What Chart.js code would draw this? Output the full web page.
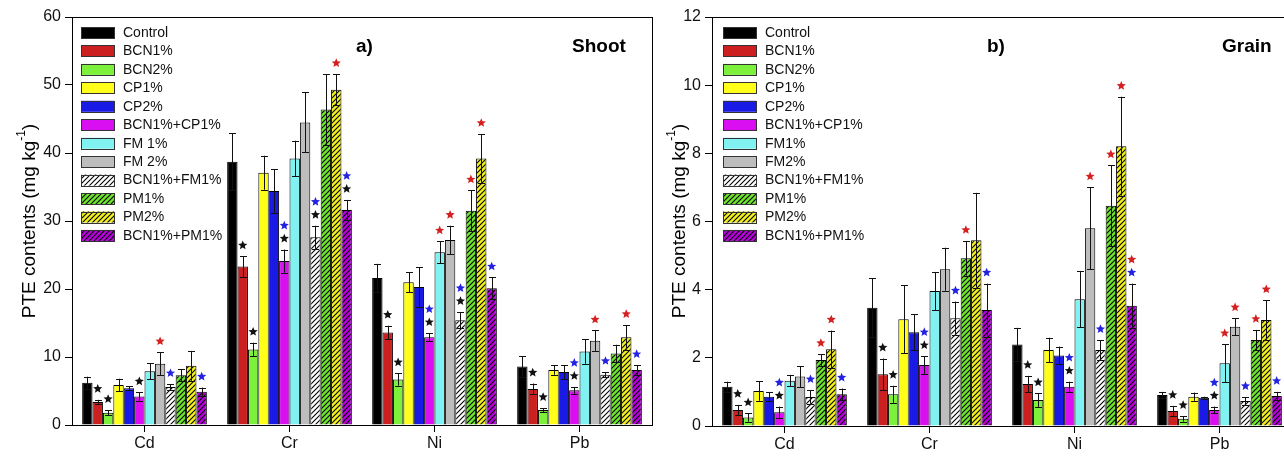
<!DOCTYPE html>
<html>
<head>
<meta charset="utf-8">
<script src="https://cdn.jsdelivr.net/npm/chart.js@4.4.1/dist/chart.umd.min.js"></script>
<style>
  html, body { margin: 0; padding: 0; background: #fff; overflow: hidden; }
  #wrap { position: relative; width: 1284px; height: 457px; overflow: hidden; }
  #shoot { position: absolute; left: 0; top: 0; }
  #grain { position: absolute; left: 655px; top: 0; }
</style>
</head>
<body>
<div id="wrap">
  <canvas id="shoot" width="655" height="457"></canvas>
  <canvas id="grain" width="660" height="457"></canvas>
</div>
<script>
const FONT = "'Liberation Sans', Arial, sans-serif";

const categories = ["Cd", "Cr", "Ni", "Pb"];
const shootLabels = ["Control", "BCN1%", "BCN2%", "CP1%", "CP2%", "BCN1%+CP1%", "FM 1%", "FM 2%", "BCN1%+FM1%", "PM1%", "PM2%", "BCN1%+PM1%"];
const grainLabels = ["Control", "BCN1%", "BCN2%", "CP1%", "CP2%", "BCN1%+CP1%", "FM1%", "FM2%", "BCN1%+FM1%", "PM1%", "PM2%", "BCN1%+PM1%"];
const seriesColors = ["#000000", "#cc1f1f", "#7df03c", "#ffff1a", "#1a1ae6", "#d90ff2", "#80f2f2", "#bdbdbd", "#ffffff", "#6ee62e", "#f2f020", "#b800dc"];
const hatched = [false, false, false, false, false, false, false, false, true, true, true, true];
const shootTicks = [0, 10, 20, 30, 40, 50, 60];
const grainTicks = [0, 2, 4, 6, 8, 10, 12];

// shoot (a), one array per metal, 12 treatments each
const shootCd = [6.2, 3.4, 1.8, 5.9, 5.4, 4.2, 7.9, 9.0, 5.6, 7.3, 8.7, 4.9];
const shootCdSD = [0.9, 0.3, 0.4, 0.9, 0.3, 0.6, 1.2, 1.7, 0.4, 0.9, 2.2, 0.6];
const shootCdStars = ["", "k", "k", "", "", "k", "", "r", "b", "", "", "b"];
const shootCr = [38.7, 23.3, 11.1, 37.1, 34.4, 24.1, 39.2, 44.5, 27.6, 46.4, 49.3, 31.6];
const shootCrSD = [4.2, 1.5, 1.0, 2.5, 3.2, 1.7, 2.6, 4.4, 1.7, 5.2, 2.3, 1.5];
const shootCrStars = ["", "k", "k", "", "", "kb", "", "", "kb", "", "r", "kb"];
const shootNi = [21.6, 13.6, 6.7, 21.0, 20.3, 12.9, 25.4, 27.2, 15.4, 31.5, 39.2, 20.1];
const shootNiSD = [2.1, 1.0, 0.9, 1.5, 2.9, 0.6, 1.6, 2.1, 1.2, 3.0, 3.6, 1.6];
const shootNiStars = ["", "k", "k", "", "", "kb", "r", "r", "kb", "r", "r", "b"];
const shootPb = [8.6, 5.3, 2.2, 8.1, 7.8, 5.1, 10.8, 12.4, 7.4, 10.5, 12.9, 8.1];
const shootPbSD = [1.5, 0.8, 0.3, 0.7, 1.0, 0.5, 1.8, 1.5, 0.4, 1.3, 1.8, 0.7];
const shootPbStars = ["", "k", "k", "", "", "kb", "", "r", "b", "", "r", "b"];

// grain (b)
const grainCd = [1.15, 0.47, 0.25, 1.03, 0.86, 0.40, 1.33, 1.45, 0.85, 1.94, 2.25, 0.93];
const grainCdSD = [0.15, 0.15, 0.12, 0.29, 0.14, 0.17, 0.17, 0.31, 0.20, 0.17, 0.55, 0.17];
const grainCdStars = ["", "k", "k", "", "", "kb", "", "", "b", "r", "r", "b"];
const grainCr = [3.47, 1.52, 0.93, 3.13, 2.75, 1.79, 3.96, 4.60, 3.16, 4.92, 5.45, 3.40];
const grainCrSD = [0.86, 0.46, 0.25, 1.0, 0.53, 0.26, 0.56, 0.63, 0.49, 0.51, 1.39, 0.78];
const grainCrStars = ["", "k", "k", "", "", "kb", "", "", "b", "r", "", "b"];
const grainNi = [2.39, 1.23, 0.76, 2.23, 2.07, 1.15, 3.72, 5.80, 2.23, 6.46, 8.21, 3.53];
const grainNiSD = [0.49, 0.24, 0.20, 0.36, 0.26, 0.15, 0.83, 1.2, 0.29, 1.19, 1.45, 0.65];
const grainNiStars = ["", "k", "k", "", "", "kb", "", "r", "b", "r", "r", "br"];
const grainPb = [0.91, 0.44, 0.21, 0.86, 0.83, 0.47, 1.84, 2.91, 0.73, 2.52, 3.11, 0.88];
const grainPbSD = [0.09, 0.15, 0.08, 0.12, 0.03, 0.10, 0.56, 0.25, 0.12, 0.30, 0.58, 0.12];
const grainPbStars = ["", "k", "k", "", "", "kb", "r", "r", "b", "r", "r", "b"];

const starColors = { k: "#111111", b: "#2222e0", r: "#d42020" };

function hatch(color) {
  const c = document.createElement("canvas");
  c.width = 5; c.height = 5;
  const g = c.getContext("2d");
  g.fillStyle = color;
  g.fillRect(0, 0, 5, 5);
  g.strokeStyle = "#000";
  g.lineWidth = 1.1;
  g.beginPath();
  g.moveTo(-1, 6); g.lineTo(6, -1);
  g.moveTo(-1, 1); g.lineTo(1, -1);
  g.moveTo(4, 6); g.lineTo(6, 4);
  g.stroke();
  return g.createPattern(c, "repeat");
}

function buildDatasets(labels, means, sds, stars) {
  return labels.map((lab, s) => ({
    label: lab,
    data: means.map((m) => m[s]),
    errors: sds.map((e) => e[s]),
    stars: stars.map((st) => st[s]),
    backgroundColor: hatched[s] ? hatch(seriesColors[s]) : seriesColors[s],
    borderColor: "#000",
    borderWidth: 1,
    borderSkipped: "bottom",
  }));
}

function drawStar(ctx, cx, cy, r, color) {
  ctx.beginPath();
  for (let i = 0; i < 10; i++) {
    const a = -Math.PI / 2 + i * Math.PI / 5;
    const rr = i % 2 === 0 ? r : r * 0.45;
    const x = cx + rr * Math.cos(a), y = cy + rr * Math.sin(a);
    i === 0 ? ctx.moveTo(x, y) : ctx.lineTo(x, y);
  }
  ctx.closePath();
  ctx.fillStyle = color;
  ctx.fill();
}

const panelPlugin = {
  id: "panel",
  afterDatasetsDraw(chart, args, opts) {
    const ctx = chart.ctx;
    const y = chart.scales.y;
    ctx.save();
    // error bars and significance stars
    chart.data.datasets.forEach((ds, i) => {
      chart.getDatasetMeta(i).data.forEach((bar, j) => {
        const m = ds.data[j], e = ds.errors[j];
        const top = y.getPixelForValue(m + e), bot = y.getPixelForValue(Math.max(0, m - e));
        const x = Math.round(bar.x) + 0.5;
        ctx.strokeStyle = "#111";
        ctx.lineWidth = 1;
        ctx.beginPath();
        ctx.moveTo(x, top); ctx.lineTo(x, bot);
        ctx.moveTo(x - 3.5, Math.round(top) + 0.5); ctx.lineTo(x + 3.5, Math.round(top) + 0.5);
        ctx.moveTo(x - 3.5, Math.round(bot) + 0.5); ctx.lineTo(x + 3.5, Math.round(bot) + 0.5);
        ctx.stroke();
        const st = ds.stars[j] || "";
        [...st].forEach((c, k) => drawStar(ctx, bar.x, top - 11 - k * 13, 4.8, starColors[c]));
      });
    });
    // frame
    const a = chart.chartArea;
    ctx.strokeStyle = "#000";
    ctx.lineWidth = 1;
    ctx.strokeRect(Math.round(a.left) + 0.5, Math.round(a.top) + 0.5, Math.round(a.right - a.left), Math.round(a.bottom - a.top));
    // legend inside plot area
    ctx.font = `14px ${FONT}`;
    ctx.textBaseline = "middle";
    chart.data.datasets.forEach((ds, i) => {
      const cy = 32 + i * 18.45;
      ctx.fillStyle = ds.backgroundColor;
      ctx.fillRect(opts.legendX, cy - 5, 33, 11);
      ctx.strokeStyle = "#333";
      ctx.strokeRect(opts.legendX + 0.5, Math.round(cy - 5) + 0.5, 33, 11);
      ctx.fillStyle = "#111";
      ctx.fillText(ds.label, opts.legendX + 42, cy + 1);
    });
    // panel tag and title
    ctx.font = `bold 19px ${FONT}`;
    ctx.fillStyle = "#000";
    ctx.textBaseline = "alphabetic";
    ctx.fillText(opts.tag, opts.tagX, 52);
    ctx.fillText(opts.title, opts.titleX, 52);
    // y axis title with superscript
    ctx.translate(opts.yTitleX, 221);
    ctx.rotate(-Math.PI / 2);
    ctx.textBaseline = "middle";
    const main = "PTE contents (mg kg";
    ctx.font = `19px ${FONT}`;
    const w1 = ctx.measureText(main).width;
    ctx.font = `12px ${FONT}`;
    const w2 = ctx.measureText("-1").width;
    ctx.font = `19px ${FONT}`;
    const w3 = ctx.measureText(")").width;
    let x0 = -(w1 + w2 + w3) / 2;
    ctx.fillText(main, x0, 7);
    ctx.font = `12px ${FONT}`;
    ctx.fillText("-1", x0 + w1, -1);
    ctx.font = `19px ${FONT}`;
    ctx.fillText(")", x0 + w1 + w2, 7);
    ctx.restore();
  },
};

function makeChart(id, datasets, ticks, o) {
  return new Chart(document.getElementById(id), {
    type: "bar",
    data: { labels: categories, datasets },
    plugins: [panelPlugin],
    options: {
      responsive: false,
      animation: false,
      layout: { padding: { top: 17, right: o.padRight, left: 0, bottom: 0 } },
      datasets: { bar: { categoryPercentage: 0.86, barPercentage: 1 } },
      plugins: {
        legend: { display: false },
        tooltip: { enabled: false },
        panel: o.panel,
      },
      scales: {
        x: {
          grid: { offset: false, drawOnChartArea: false, tickLength: 7, color: "#000" },
          border: { color: "#000" },
          ticks: { color: "#111", font: { family: FONT, size: 16 }, padding: 2 },
          afterFit: (s) => { s.height = o.xHeight; },
        },
        y: {
          min: ticks[0],
          max: ticks[ticks.length - 1],
          afterBuildTicks: (s) => { s.ticks = ticks.map((v) => ({ value: v })); },
          grid: { drawOnChartArea: false, tickLength: 7, color: "#000" },
          border: { color: "#000" },
          ticks: { color: "#111", font: { family: FONT, size: 16 }, padding: 4 },
          afterFit: (s) => { s.width = o.yWidth; },
        },
      },
    },
  });
}

window.addEventListener("DOMContentLoaded", () => {
  makeChart("shoot",
    buildDatasets(shootLabels,
      [shootCd, shootCr, shootNi, shootPb],
      [shootCdSD, shootCrSD, shootNiSD, shootPbSD],
      [shootCdStars, shootCrStars, shootNiStars, shootPbStars]),
    shootTicks,
    { padRight: 3, xHeight: 32, yWidth: 72,
      panel: { tag: "a)", tagX: 356, title: "Shoot", titleX: 572, legendX: 81, yTitleX: 23 } });

  makeChart("grain",
    buildDatasets(grainLabels,
      [grainCd, grainCr, grainNi, grainPb],
      [grainCdSD, grainCrSD, grainNiSD, grainPbSD],
      [grainCdStars, grainCrStars, grainNiStars, grainPbStars]),
    grainTicks,
    { padRight: 23, xHeight: 31, yWidth: 57,
      panel: { tag: "b)", tagX: 332, title: "Grain", titleX: 567, legendX: 68, yTitleX: 18 } });
});
</script>
</body>
</html>
